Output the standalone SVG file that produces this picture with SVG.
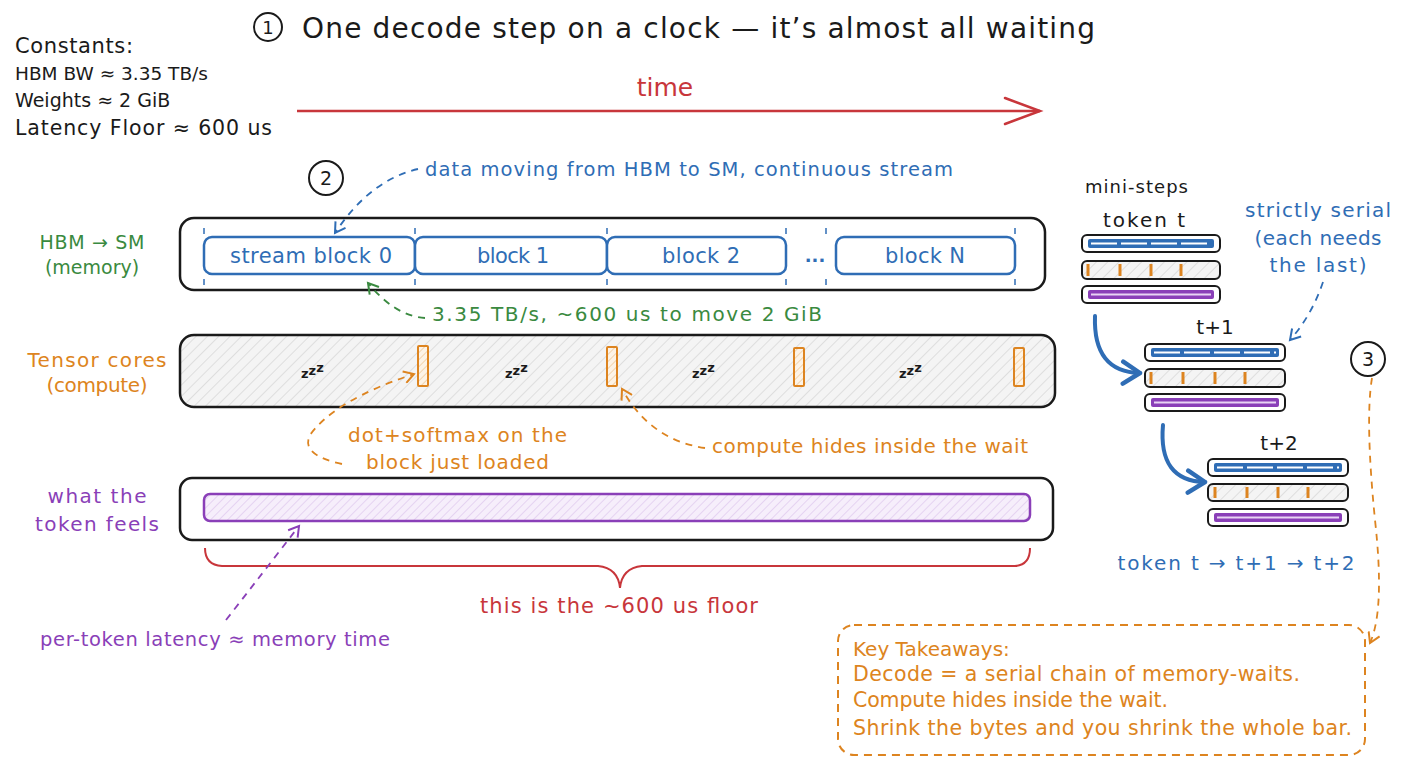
<svg xmlns="http://www.w3.org/2000/svg" width="1408" height="768" viewBox="0 0 1408 768">
<defs>
<style>
text{font-family:"DejaVu Sans","Liberation Sans",sans-serif;}
.k{fill:#1a1a1a}
.b{fill:#2f6db5}
.g{fill:#3a8a40}
.o{fill:#dd8420}
.p{fill:#8a3fb8}
.r{fill:#c8363b}
.outer{fill:#fff;stroke:#1a1a1a;stroke-width:2.5}
.blk{fill:#fff;stroke:#2f6db5;stroke-width:2.5}
.tick{stroke:#2f6db5;stroke-width:1.5}
.obar{fill:url(#hatchO);stroke:#dd8420;stroke-width:2}
.dashB{fill:none;stroke:#2f6db5;stroke-width:1.8;stroke-dasharray:7 6}
.dashG{fill:none;stroke:#3a8a40;stroke-width:1.8;stroke-dasharray:7 6}
.dashO{fill:none;stroke:#dd8420;stroke-width:1.8;stroke-dasharray:7 6}
.dashP{fill:none;stroke:#8a3fb8;stroke-width:1.8;stroke-dasharray:7 6}
.circ{fill:#fff;stroke:#1a1a1a;stroke-width:2}
.mini{fill:#fff;stroke:#1a1a1a;stroke-width:2}
.zz{font-size:13px;font-weight:bold;fill:#1a1a1a}
</style>
<pattern id="hatchG" width="8" height="8" patternUnits="userSpaceOnUse" patternTransform="rotate(45)">
<rect width="8" height="8" fill="#f4f4f4"/>
<line x1="0" y1="0" x2="0" y2="8" stroke="#c8c8c8" stroke-width="1"/>
</pattern>
<pattern id="hatchP" width="6" height="6" patternUnits="userSpaceOnUse" patternTransform="rotate(45)">
<rect width="6" height="6" fill="#f6eefb"/>
<line x1="0" y1="0" x2="0" y2="6" stroke="#d5b8e8" stroke-width="1"/>
</pattern>
<pattern id="hatchO" width="5" height="5" patternUnits="userSpaceOnUse" patternTransform="rotate(45)">
<rect width="5" height="5" fill="#fdf3e6"/>
<line x1="0" y1="0" x2="0" y2="5" stroke="#e8b676" stroke-width="1"/>
</pattern>
<marker id="arB" markerWidth="14" markerHeight="14" refX="11" refY="7" orient="auto" markerUnits="userSpaceOnUse"><path d="M1,1 L11,7 L1,13" fill="none" stroke="#2f6db5" stroke-width="2"/></marker>
<marker id="arG" markerWidth="14" markerHeight="14" refX="11" refY="7" orient="auto" markerUnits="userSpaceOnUse"><path d="M1,1 L11,7 L1,13" fill="none" stroke="#3a8a40" stroke-width="2"/></marker>
<marker id="arO" markerWidth="14" markerHeight="14" refX="11" refY="7" orient="auto" markerUnits="userSpaceOnUse"><path d="M1,1 L11,7 L1,13" fill="none" stroke="#dd8420" stroke-width="2"/></marker>
<marker id="arP" markerWidth="14" markerHeight="14" refX="11" refY="7" orient="auto" markerUnits="userSpaceOnUse"><path d="M1,1 L11,7 L1,13" fill="none" stroke="#8a3fb8" stroke-width="2"/></marker>
<marker id="arBig" markerWidth="28" markerHeight="28" refX="20" refY="14" orient="auto" markerUnits="userSpaceOnUse"><path d="M3,3 L20,14 L3,25" fill="none" stroke="#2f6db5" stroke-width="4.5" stroke-linecap="round" stroke-linejoin="round"/></marker>
</defs>
<rect width="1408" height="768" fill="#fff"/>

<g id="title">
<circle class="circ" cx="268" cy="27" r="14"/>
<text x="268" y="34" font-size="18" text-anchor="middle" class="k">1</text>
<text x="302" y="38" font-size="28" textLength="793" class="k">One decode step on a clock — it’s almost all waiting</text>
</g>

<g id="constants">
<text x="15" y="53" font-size="21" class="k" textLength="118">Constants:</text>
<text x="15" y="80" font-size="18.5" class="k">HBM BW ≈ 3.35 TB/s</text>
<text x="15" y="107" font-size="19" class="k">Weights ≈ 2 GiB</text>
<text x="15" y="135" font-size="20.5" class="k" textLength="257">Latency Floor ≈ 600 us</text>
</g>

<g id="time-axis">
<line x1="297" y1="111" x2="1040" y2="111" stroke="#c8363b" stroke-width="2.5"/>
<path d="M1005,98 L1040,111 L1005,124" fill="none" stroke="#c8363b" stroke-width="2.5" stroke-linecap="round"/>
<text x="665" y="96" font-size="25" text-anchor="middle" class="r">time</text>
</g>

<g id="marker-2">
<circle class="circ" cx="326" cy="178" r="17"/>
<text x="326" y="185" font-size="19" text-anchor="middle" class="k">2</text>
</g>

<g id="hbm-row">
<rect class="outer" x="180" y="218" width="865" height="72" rx="14"/>
<rect class="blk" x="204" y="237" width="211" height="37" rx="8"/>
<rect class="blk" x="415" y="237" width="192" height="37" rx="8"/>
<rect class="blk" x="607" y="237" width="179" height="37" rx="8"/>
<rect class="blk" x="836" y="237" width="179" height="37" rx="8"/>
<g>
<line class="tick" x1="204" y1="228" x2="204" y2="234"/><line class="tick" x1="204" y1="279" x2="204" y2="285"/>
<line class="tick" x1="415" y1="228" x2="415" y2="234"/><line class="tick" x1="415" y1="279" x2="415" y2="285"/>
<line class="tick" x1="607" y1="228" x2="607" y2="234"/><line class="tick" x1="607" y1="279" x2="607" y2="285"/>
<line class="tick" x1="786" y1="228" x2="786" y2="234"/><line class="tick" x1="786" y1="279" x2="786" y2="285"/>
<line class="tick" x1="826" y1="228" x2="826" y2="234"/><line class="tick" x1="826" y1="279" x2="826" y2="285"/>
<line class="tick" x1="1015" y1="228" x2="1015" y2="234"/><line class="tick" x1="1015" y1="279" x2="1015" y2="285"/>
</g>
<text x="311" y="263" font-size="21" text-anchor="middle" class="b" textLength="162">stream block 0</text>
<text x="513" y="263" font-size="21" text-anchor="middle" class="b" textLength="72">block 1</text>
<text x="701" y="263" font-size="21" text-anchor="middle" class="b" textLength="78">block 2</text>
<text x="815" y="262" font-size="18" font-weight="bold" text-anchor="middle" class="b">...</text>
<text x="925" y="263" font-size="21" text-anchor="middle" class="b" textLength="80">block N</text>
<text x="92" y="249" font-size="19" text-anchor="middle" class="g" textLength="105">HBM → SM</text>
<text x="92" y="274" font-size="19" text-anchor="middle" class="g">(memory)</text>
</g>

<g id="tensor-row">
<rect class="outer" x="180" y="335" width="875" height="72" rx="14" style="fill:url(#hatchG)"/>
<rect class="obar" x="418" y="346" width="10" height="40" rx="1"/>
<rect class="obar" x="607" y="347" width="10" height="39" rx="1"/>
<rect class="obar" x="794" y="348" width="10" height="38" rx="1"/>
<rect class="obar" x="1014" y="348" width="10" height="38" rx="1"/>
<text x="301" y="378" class="zz">z<tspan dy="-3">z</tspan><tspan dy="-3">z</tspan></text>
<text x="505" y="378" class="zz">z<tspan dy="-3">z</tspan><tspan dy="-3">z</tspan></text>
<text x="692" y="378" class="zz">z<tspan dy="-3">z</tspan><tspan dy="-3">z</tspan></text>
<text x="899" y="378" class="zz">z<tspan dy="-3">z</tspan><tspan dy="-3">z</tspan></text>
<text x="97" y="367" font-size="20" text-anchor="middle" class="o" textLength="139">Tensor cores</text>
<text x="97" y="392" font-size="20" text-anchor="middle" class="o" textLength="101">(compute)</text>
</g>

<g id="token-row">
<rect class="outer" x="180" y="478" width="873" height="62" rx="12"/>
<rect x="204" y="494" width="826" height="27" rx="6" fill="url(#hatchP)" stroke="#8a3fb8" stroke-width="2.5"/>
<text x="97" y="503" font-size="20" text-anchor="middle" class="p" textLength="99">what the</text>
<text x="97" y="531" font-size="20" text-anchor="middle" class="p" textLength="124">token feels</text>
</g>

<g id="floor-brace">
<path d="M205,548 Q205,565 222,566 L598,566 Q618,568 620,588 Q622,568 642,566 L1015,566 Q1030,565 1030,548" fill="none" stroke="#c8363b" stroke-width="2"/>
<text x="619" y="613" font-size="21" text-anchor="middle" class="r" textLength="278">this is the ~600 us floor</text>
</g>

<g id="mini-steps">
<text x="1085" y="193" font-size="18" class="k" textLength="103">mini-steps</text>
<text x="1144" y="227" font-size="20" text-anchor="middle" class="k" textLength="82">token t</text>
<g id="stack-t">
<rect class="mini" x="1082" y="235" width="138" height="17" rx="5"/>
<rect x="1088" y="239" width="126" height="9" rx="2" fill="#2f6db5"/>
<line x1="1091" y1="243.5" x2="1211" y2="243.5" stroke="#fff" stroke-width="2" stroke-dasharray="26 4"/>
<rect class="mini" x="1082" y="261" width="138" height="18" rx="5" style="fill:url(#hatchG)"/>
<g stroke="#dd8420" stroke-width="3"><line x1="1088" y1="264" x2="1088" y2="276"/><line x1="1120" y1="264" x2="1120" y2="276"/><line x1="1151" y1="264" x2="1151" y2="276"/><line x1="1181" y1="264" x2="1181" y2="276"/></g>
<rect class="mini" x="1082" y="286" width="138" height="17" rx="5"/>
<rect x="1088" y="290" width="126" height="9" rx="2" fill="#8a3fb8"/>
<line x1="1091" y1="294.5" x2="1211" y2="294.5" stroke="#e8d4f4" stroke-width="2"/>
</g>
<text x="1215" y="334" font-size="20" text-anchor="middle" class="k">t+1</text>
<g id="stack-t1">
<rect class="mini" x="1145" y="344" width="140" height="17" rx="5"/>
<rect x="1151" y="348" width="128" height="9" rx="2" fill="#2f6db5"/>
<line x1="1154" y1="352.5" x2="1276" y2="352.5" stroke="#fff" stroke-width="2" stroke-dasharray="26 4"/>
<rect class="mini" x="1145" y="369" width="140" height="18" rx="5" style="fill:url(#hatchG)"/>
<g stroke="#dd8420" stroke-width="3"><line x1="1151" y1="372" x2="1151" y2="384"/><line x1="1183" y1="372" x2="1183" y2="384"/><line x1="1215" y1="372" x2="1215" y2="384"/><line x1="1245" y1="372" x2="1245" y2="384"/></g>
<rect class="mini" x="1145" y="394" width="140" height="17" rx="5"/>
<rect x="1151" y="398" width="128" height="9" rx="2" fill="#8a3fb8"/>
<line x1="1154" y1="402.5" x2="1276" y2="402.5" stroke="#e8d4f4" stroke-width="2"/>
</g>
<text x="1279" y="450" font-size="20" text-anchor="middle" class="k">t+2</text>
<g id="stack-t2">
<rect class="mini" x="1208" y="459" width="140" height="17" rx="5"/>
<rect x="1214" y="463" width="128" height="9" rx="2" fill="#2f6db5"/>
<line x1="1217" y1="467.5" x2="1339" y2="467.5" stroke="#fff" stroke-width="2" stroke-dasharray="26 4"/>
<rect class="mini" x="1208" y="484" width="140" height="17" rx="5" style="fill:url(#hatchG)"/>
<g stroke="#dd8420" stroke-width="3"><line x1="1215" y1="487" x2="1215" y2="498"/><line x1="1247" y1="487" x2="1247" y2="498"/><line x1="1278" y1="487" x2="1278" y2="498"/><line x1="1308" y1="487" x2="1308" y2="498"/></g>
<rect class="mini" x="1208" y="509" width="140" height="17" rx="5"/>
<rect x="1214" y="513" width="128" height="9" rx="2" fill="#8a3fb8"/>
<line x1="1217" y1="517.5" x2="1339" y2="517.5" stroke="#e8d4f4" stroke-width="2"/>
</g>
<text x="1318" y="217" font-size="20" text-anchor="middle" class="b" textLength="146">strictly serial</text>
<text x="1318" y="245" font-size="20" text-anchor="middle" class="b" textLength="127">(each needs</text>
<text x="1318" y="272" font-size="20" text-anchor="middle" class="b" textLength="97">the last)</text>
<text x="1236" y="570" font-size="20" text-anchor="middle" class="b" textLength="237">token t → t+1 → t+2</text>
</g>

<g id="marker-3">
<circle class="circ" cx="1368" cy="359" r="17"/>
<text x="1368" y="366" font-size="19" text-anchor="middle" class="k">3</text>
</g>

<g id="takeaways">
<rect x="838" y="625" width="527" height="130" rx="16" fill="none" stroke="#dd8420" stroke-width="2" stroke-dasharray="8 6"/>
<text x="853" y="656" font-size="20" class="o">Key Takeaways:</text>
<text x="853" y="681" font-size="20.5" class="o" textLength="447">Decode = a serial chain of memory-waits.</text>
<text x="853" y="707" font-size="20.5" class="o" textLength="315">Compute hides inside the wait.</text>
<text x="853" y="735" font-size="20.5" class="o" textLength="499">Shrink the bytes and you shrink the whole bar.</text>
</g>

<g id="annotations">
<text x="425" y="176" font-size="19.5" class="b" textLength="528">data moving from HBM to SM, continuous stream</text>
<text x="432" y="321" font-size="20" class="g" textLength="390">3.35 TB/s, ~600 us to move 2 GiB</text>
<text x="348" y="442" font-size="20" class="o" textLength="219">dot+softmax on the</text>
<text x="366" y="469" font-size="20" class="o" textLength="183">block just loaded</text>
<text x="712" y="453" font-size="20" class="o" textLength="316">compute hides inside the wait</text>
<text x="40" y="646" font-size="19.5" class="p" textLength="350">per-token latency ≈ memory time</text>
</g>

<g id="connectors">
<path class="dashB" d="M418,169 Q370,180 335,233" marker-end="url(#arB)"/>
<path class="dashG" d="M425,318 Q395,316 368,283" marker-end="url(#arG)"/>
<path class="dashO" d="M342,464 Q300,455 310,435 Q335,400 414,374" marker-end="url(#arO)"/>
<path class="dashO" d="M705,448 Q650,440 622,389" marker-end="url(#arO)"/>
<path class="dashP" d="M226,620 Q265,570 299,526" marker-end="url(#arP)"/>
<path class="dashB" d="M1323,282 Q1312,315 1290,340" marker-end="url(#arB)"/>
<path class="dashO" d="M1372,378 Q1365,420 1375,520 Q1385,610 1370,643" marker-end="url(#arO)"/>
<path d="M1095,316 Q1093,372 1140,373" fill="none" stroke="#2f6db5" stroke-width="4" stroke-linecap="round" marker-end="url(#arBig)"/>
<path d="M1163,425 Q1158,481 1205,482" fill="none" stroke="#2f6db5" stroke-width="4" stroke-linecap="round" marker-end="url(#arBig)"/>
</g>
</svg>
